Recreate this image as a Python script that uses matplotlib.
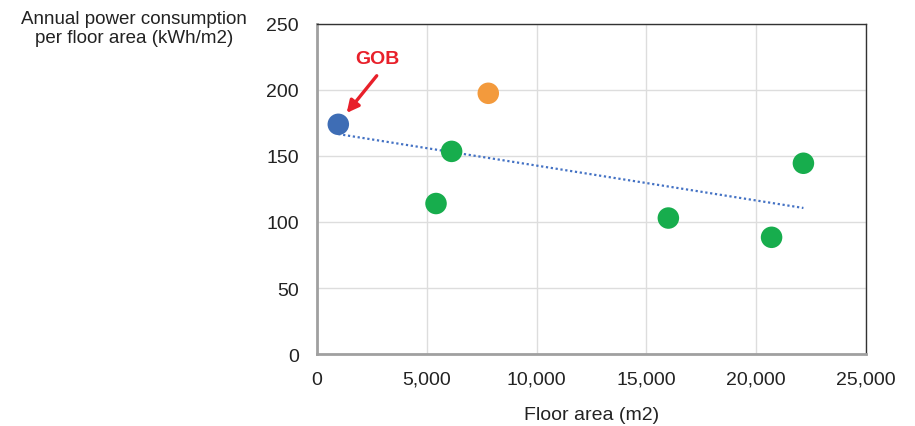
import matplotlib
matplotlib.use("Agg")
import matplotlib.pyplot as plt
import numpy as np
from matplotlib.ticker import FuncFormatter

plt.rcParams['font.family'] = ['Liberation Sans', 'DejaVu Sans']

# data
floor_area = [970, 7800, 6130, 5420, 16000, 20700, 22150]
consumption = [174, 197.5, 153.5, 114, 103, 88.4, 144.5]
point_colors = ['#3E6DB5', '#F39A3C', '#17AD4D', '#17AD4D', '#17AD4D', '#17AD4D', '#17AD4D']
x_ticks = [0, 5000, 10000, 15000, 20000, 25000]
y_ticks = [0, 50, 100, 150, 200, 250]

fig = plt.figure(figsize=(9.15, 4.27), dpi=100)
ax = fig.add_axes([317/915, 1-355/427, (866-317)/915, (355-25)/427])

ax.set_xlim(0, 25000)
ax.set_ylim(0, 250)
ax.set_xticks(x_ticks)
ax.set_yticks(y_ticks)
ax.xaxis.set_major_formatter(FuncFormatter(lambda v, p: f"{int(v):,}"))
ax.grid(True, color='#DDDDDD', linewidth=1)
ax.set_axisbelow(True)
ax.tick_params(length=0, labelsize=14, colors='#222222')
ax.tick_params(axis='x', pad=12)
ax.tick_params(axis='y', pad=13)

for side in ['top', 'right']:
    ax.spines[side].set_color('#333333')
    ax.spines[side].set_linewidth(1.0)
for side in ['left', 'bottom']:
    ax.spines[side].set_color('#A0A0A0')
    ax.spines[side].set_linewidth(2.0)

# trendline
xs = np.array(floor_area, dtype=float)
ys = np.array(consumption, dtype=float)
m, b = np.polyfit(xs, ys, 1)
tx = np.array([xs.min(), xs.max()])
ax.plot(tx, m * tx + b, linestyle=(0, (1, 1.2)), color='#4472C4', linewidth=1.6, zorder=2)

ax.scatter(floor_area, consumption, s=240, c=point_colors, zorder=3, edgecolors='none')

ax.text(2730, 223.5, 'GOB', color='#E8202A', fontsize=14, fontweight='bold',
        ha='center', va='center')
ax.annotate('', xy=(1350, 182.6), xytext=(2720, 210.8),
            arrowprops=dict(arrowstyle='-|>', color='#E8202A', lw=2.4,
                            mutation_scale=18, shrinkA=0, shrinkB=0))

ax.set_xlabel('Floor area (m2)', fontsize=14, color='#222222', labelpad=13)
fig.text(134/915, 1-29/427, 'Annual power consumption\nper floor area (kWh/m2)',
         ha='center', va='center', fontsize=13.5, color='#222222', linespacing=1.2)

fig.savefig('out.png', dpi=100)
